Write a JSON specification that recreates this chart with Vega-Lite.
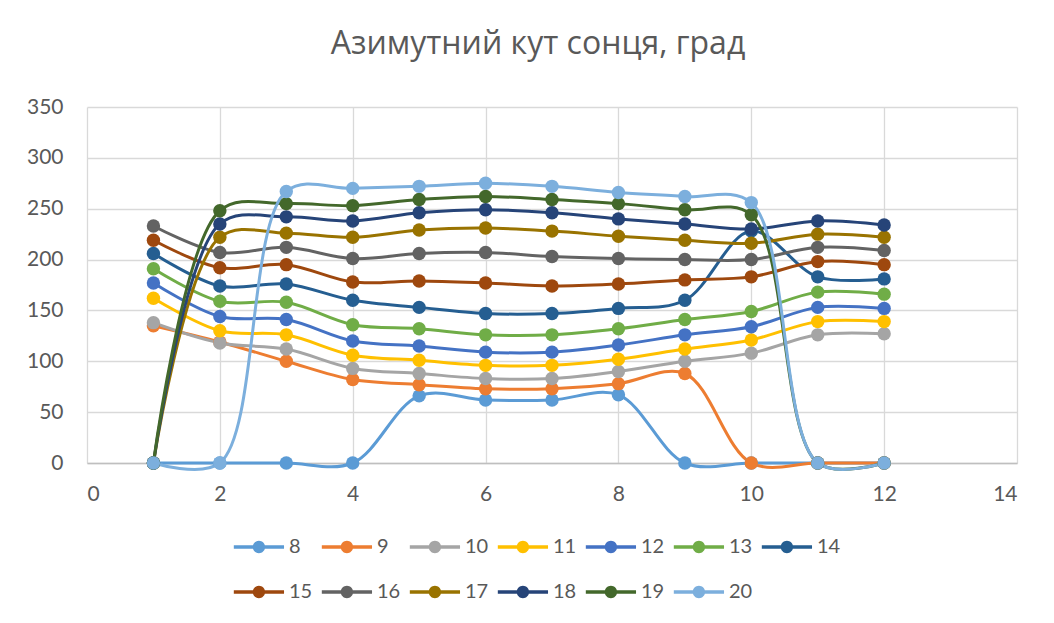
{
  "$schema": "https://vega.github.io/schema/vega-lite/v6.json",
  "autosize": "none",
  "width": 930,
  "height": 356,
  "padding": {"left": 87, "top": 107, "right": 37, "bottom": 160},
  "background": "white",
  "config": {
    "view": {"stroke": null},
    "font": "Lato",
    "axis": {"labelFont": "Lato", "labelColor": "#595959", "labelFontSize": 21, "ticks": false, "gridColor": "#d9d9d9", "gridWidth": 1.3},
    "legend": {"labelFont": "Lato", "labelColor": "#595959", "labelFontSize": 20}
  },
  "title": {
    "text": "Азимутний кут сонця, град",
    "fontSize": 32,
    "fontWeight": "normal",
    "color": "#595959",
    "font": "Open Sans",
    "anchor": "middle",
    "offset": 35,
    "dx": -14
  },
  "data": {
    "values": [
      {"h": 8, "x": 1, "a": 0}, {"h": 8, "x": 2, "a": 0}, {"h": 8, "x": 3, "a": 0}, {"h": 8, "x": 4, "a": 0}, {"h": 8, "x": 5, "a": 66}, {"h": 8, "x": 6, "a": 62}, {"h": 8, "x": 7, "a": 62}, {"h": 8, "x": 8, "a": 67}, {"h": 8, "x": 9, "a": 0}, {"h": 8, "x": 10, "a": 0}, {"h": 8, "x": 11, "a": 0}, {"h": 8, "x": 12, "a": 0},
      {"h": 9, "x": 1, "a": 135}, {"h": 9, "x": 2, "a": 119}, {"h": 9, "x": 3, "a": 100}, {"h": 9, "x": 4, "a": 82}, {"h": 9, "x": 5, "a": 77}, {"h": 9, "x": 6, "a": 73}, {"h": 9, "x": 7, "a": 73}, {"h": 9, "x": 8, "a": 78}, {"h": 9, "x": 9, "a": 88}, {"h": 9, "x": 10, "a": 0}, {"h": 9, "x": 11, "a": 0}, {"h": 9, "x": 12, "a": 0},
      {"h": 10, "x": 1, "a": 138}, {"h": 10, "x": 2, "a": 118}, {"h": 10, "x": 3, "a": 112}, {"h": 10, "x": 4, "a": 93}, {"h": 10, "x": 5, "a": 88}, {"h": 10, "x": 6, "a": 83}, {"h": 10, "x": 7, "a": 83}, {"h": 10, "x": 8, "a": 90}, {"h": 10, "x": 9, "a": 100}, {"h": 10, "x": 10, "a": 108}, {"h": 10, "x": 11, "a": 126}, {"h": 10, "x": 12, "a": 127},
      {"h": 11, "x": 1, "a": 162}, {"h": 11, "x": 2, "a": 130}, {"h": 11, "x": 3, "a": 126}, {"h": 11, "x": 4, "a": 106}, {"h": 11, "x": 5, "a": 101}, {"h": 11, "x": 6, "a": 96}, {"h": 11, "x": 7, "a": 96}, {"h": 11, "x": 8, "a": 102}, {"h": 11, "x": 9, "a": 112}, {"h": 11, "x": 10, "a": 121}, {"h": 11, "x": 11, "a": 139}, {"h": 11, "x": 12, "a": 139},
      {"h": 12, "x": 1, "a": 177}, {"h": 12, "x": 2, "a": 144}, {"h": 12, "x": 3, "a": 141}, {"h": 12, "x": 4, "a": 120}, {"h": 12, "x": 5, "a": 115}, {"h": 12, "x": 6, "a": 109}, {"h": 12, "x": 7, "a": 109}, {"h": 12, "x": 8, "a": 116}, {"h": 12, "x": 9, "a": 126}, {"h": 12, "x": 10, "a": 134}, {"h": 12, "x": 11, "a": 153}, {"h": 12, "x": 12, "a": 152},
      {"h": 13, "x": 1, "a": 191}, {"h": 13, "x": 2, "a": 159}, {"h": 13, "x": 3, "a": 158}, {"h": 13, "x": 4, "a": 136}, {"h": 13, "x": 5, "a": 132}, {"h": 13, "x": 6, "a": 126}, {"h": 13, "x": 7, "a": 126}, {"h": 13, "x": 8, "a": 132}, {"h": 13, "x": 9, "a": 141}, {"h": 13, "x": 10, "a": 149}, {"h": 13, "x": 11, "a": 168}, {"h": 13, "x": 12, "a": 166},
      {"h": 14, "x": 1, "a": 206}, {"h": 14, "x": 2, "a": 174}, {"h": 14, "x": 3, "a": 176}, {"h": 14, "x": 4, "a": 160}, {"h": 14, "x": 5, "a": 153}, {"h": 14, "x": 6, "a": 147}, {"h": 14, "x": 7, "a": 147}, {"h": 14, "x": 8, "a": 152}, {"h": 14, "x": 9, "a": 160}, {"h": 14, "x": 10, "a": 228}, {"h": 14, "x": 11, "a": 183}, {"h": 14, "x": 12, "a": 181},
      {"h": 15, "x": 1, "a": 219}, {"h": 15, "x": 2, "a": 192}, {"h": 15, "x": 3, "a": 195}, {"h": 15, "x": 4, "a": 178}, {"h": 15, "x": 5, "a": 179}, {"h": 15, "x": 6, "a": 177}, {"h": 15, "x": 7, "a": 174}, {"h": 15, "x": 8, "a": 176}, {"h": 15, "x": 9, "a": 180}, {"h": 15, "x": 10, "a": 183}, {"h": 15, "x": 11, "a": 198}, {"h": 15, "x": 12, "a": 195},
      {"h": 16, "x": 1, "a": 233}, {"h": 16, "x": 2, "a": 207}, {"h": 16, "x": 3, "a": 212}, {"h": 16, "x": 4, "a": 201}, {"h": 16, "x": 5, "a": 206}, {"h": 16, "x": 6, "a": 207}, {"h": 16, "x": 7, "a": 203}, {"h": 16, "x": 8, "a": 201}, {"h": 16, "x": 9, "a": 200}, {"h": 16, "x": 10, "a": 200}, {"h": 16, "x": 11, "a": 212}, {"h": 16, "x": 12, "a": 209},
      {"h": 17, "x": 1, "a": 0}, {"h": 17, "x": 2, "a": 222}, {"h": 17, "x": 3, "a": 226}, {"h": 17, "x": 4, "a": 222}, {"h": 17, "x": 5, "a": 229}, {"h": 17, "x": 6, "a": 231}, {"h": 17, "x": 7, "a": 228}, {"h": 17, "x": 8, "a": 223}, {"h": 17, "x": 9, "a": 219}, {"h": 17, "x": 10, "a": 216}, {"h": 17, "x": 11, "a": 225}, {"h": 17, "x": 12, "a": 222},
      {"h": 18, "x": 1, "a": 0}, {"h": 18, "x": 2, "a": 235}, {"h": 18, "x": 3, "a": 242}, {"h": 18, "x": 4, "a": 238}, {"h": 18, "x": 5, "a": 246}, {"h": 18, "x": 6, "a": 249}, {"h": 18, "x": 7, "a": 246}, {"h": 18, "x": 8, "a": 240}, {"h": 18, "x": 9, "a": 235}, {"h": 18, "x": 10, "a": 230}, {"h": 18, "x": 11, "a": 238}, {"h": 18, "x": 12, "a": 234},
      {"h": 19, "x": 1, "a": 0}, {"h": 19, "x": 2, "a": 248}, {"h": 19, "x": 3, "a": 255}, {"h": 19, "x": 4, "a": 253}, {"h": 19, "x": 5, "a": 259}, {"h": 19, "x": 6, "a": 262}, {"h": 19, "x": 7, "a": 259}, {"h": 19, "x": 8, "a": 255}, {"h": 19, "x": 9, "a": 249}, {"h": 19, "x": 10, "a": 244}, {"h": 19, "x": 11, "a": 0}, {"h": 19, "x": 12, "a": 0},
      {"h": 20, "x": 1, "a": 0}, {"h": 20, "x": 2, "a": 0}, {"h": 20, "x": 3, "a": 267}, {"h": 20, "x": 4, "a": 270}, {"h": 20, "x": 5, "a": 272}, {"h": 20, "x": 6, "a": 275}, {"h": 20, "x": 7, "a": 272}, {"h": 20, "x": 8, "a": 266}, {"h": 20, "x": 9, "a": 262}, {"h": 20, "x": 10, "a": 256}, {"h": 20, "x": 11, "a": 0}, {"h": 20, "x": 12, "a": 0}
    ]
  },
  "encoding": {
    "x": {
      "field": "x", "type": "quantitative",
      "scale": {"domain": [0, 14], "nice": false},
      "axis": {"title": null, "values": [0, 2, 4, 6, 8, 10, 12, 14], "domainColor": "#bfbfbf", "domainWidth": 1.3, "labelPadding": 20, "grid": true}
    },
    "y": {
      "field": "a", "type": "quantitative",
      "scale": {"domain": [0, 350], "nice": false},
      "axis": {"title": null, "values": [0, 50, 100, 150, 200, 250, 300, 350], "domain": false, "labelPadding": 24}
    },
    "color": {
      "field": "h", "type": "nominal",
      "scale": {
        "domain": [8, 9, 10, 11, 12, 13, 14, 15, 16, 17, 18, 19, 20],
        "range": ["#5B9BD5", "#ED7D31", "#A5A5A5", "#FFC000", "#4472C4", "#70AD47", "#255E91", "#9E480E", "#636363", "#997300", "#264478", "#43682B", "#7CAFDD"]
      },
      "legend": {
        "title": null,
        "orient": "none",
        "legendX": 143,
        "legendY": 430,
        "direction": "horizontal",
        "columns": 7,
        "gridAlign": "all",
        "columnPadding": 5,
        "rowPadding": 25,
        "symbolType": "M-1,-0.263H7.12V0.263H-1Z M4.06,0A1,1 0 1,1 2.06,0A1,1 0 1,1 4.06,0Z",
        "symbolSize": 153,
        "symbolStrokeWidth": 0,
        "labelOffset": 39,
        "encode": {
          "symbols": {"update": {"fill": {"scale": "color", "field": "value"}, "strokeWidth": {"value": 0}, "opacity": {"value": 1}}}
        }
      }
    }
  },
  "layer": [
    {
      "mark": {"type": "line", "interpolate": "catmull-rom", "tension": 0.5, "strokeWidth": 3}
    },
    {
      "mark": {"type": "point", "filled": true, "size": 180, "opacity": 1}
    }
  ]
}
